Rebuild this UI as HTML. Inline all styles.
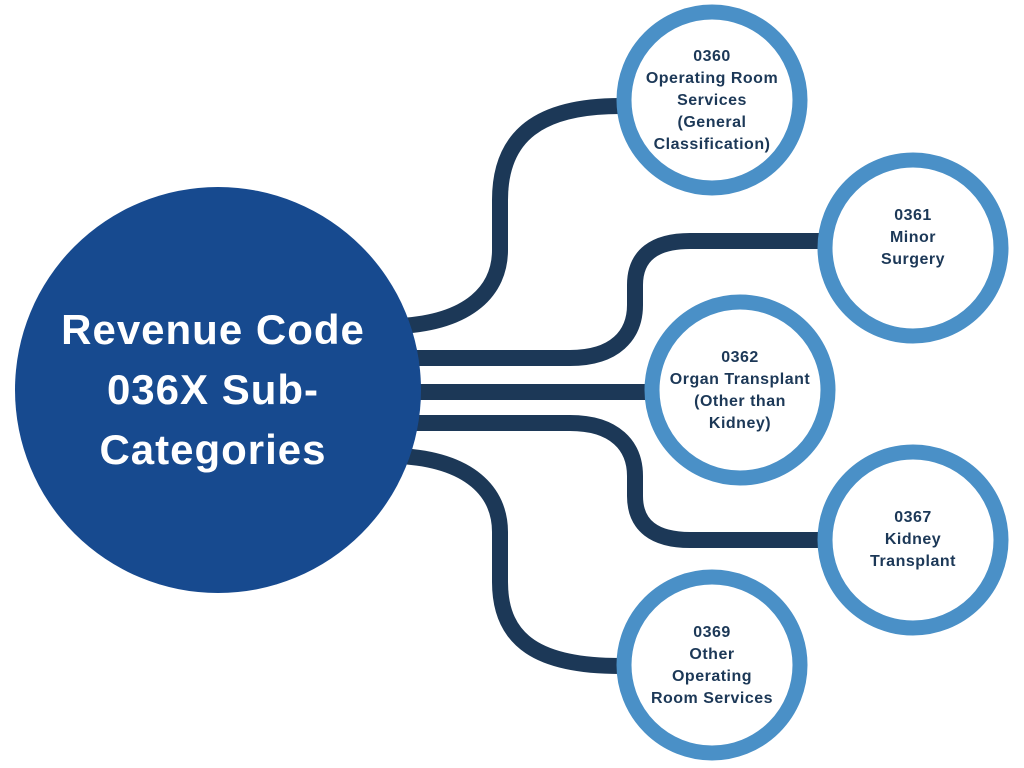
<!DOCTYPE html>
<html><head><meta charset="utf-8"><style>
html,body{margin:0;padding:0;background:#fff;}
svg{display:block;}
text{font-family:"Liberation Sans",sans-serif;font-weight:bold;}
</style></head><body>
<svg width="1024" height="768" viewBox="0 0 1024 768" xmlns="http://www.w3.org/2000/svg">
<g fill="none" stroke="#1c3857" stroke-width="16">
<path d="M400,326 C470,322 500,290 500,250 L500,200 C500,135 540,106 620,106"/>
<path d="M405,358 L570,358 C615,358 635,335 635,305 L635,285 C635,255 655,241 690,241 L830,241"/>
<path d="M405,392 L670,392"/>
<path d="M405,423 L570,423 C615,423 635,446 635,476 L635,496 C635,526 655,540 690,540 L830,540"/>
<path d="M400,456 C470,460 500,492 500,532 L500,582 C500,642 540,666 620,666"/>
</g>
<circle cx="218" cy="390" r="203" fill="#174a8f"/>
<g fill="#fff" stroke="#4a90c7" stroke-width="15">
<circle cx="712" cy="100" r="88"/>
<circle cx="913" cy="248" r="88"/>
<circle cx="740" cy="390" r="88"/>
<circle cx="913" cy="540" r="88"/>
<circle cx="712" cy="665" r="88"/>
</g>
<g fill="#fff" font-size="42" text-anchor="middle" letter-spacing="1">
<text x="213" y="344">Revenue Code</text>
<text x="213" y="404">036X Sub-</text>
<text x="213" y="464">Categories</text>
</g>
<g fill="#1c3857" font-size="16" text-anchor="middle" letter-spacing="0.5">
<text x="712" y="61">0360</text>
<text x="712" y="83">Operating Room</text>
<text x="712" y="105">Services</text>
<text x="712" y="127">(General</text>
<text x="712" y="149">Classification)</text>
<text x="913" y="220">0361</text>
<text x="913" y="242">Minor</text>
<text x="913" y="264">Surgery</text>
<text x="740" y="362">0362</text>
<text x="740" y="384">Organ Transplant</text>
<text x="740" y="406">(Other than</text>
<text x="740" y="428">Kidney)</text>
<text x="913" y="522">0367</text>
<text x="913" y="544">Kidney</text>
<text x="913" y="566">Transplant</text>
<text x="712" y="637">0369</text>
<text x="712" y="659">Other</text>
<text x="712" y="681">Operating</text>
<text x="712" y="703">Room Services</text>
</g>
</svg>
</body></html>
